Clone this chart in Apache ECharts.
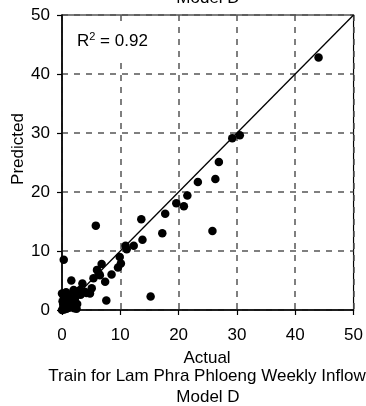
<!DOCTYPE html>
<html>
<head>
<meta charset="utf-8">
<script src="https://cdn.jsdelivr.net/npm/echarts@6/dist/echarts.min.js"></script>
<style>
  html, body { margin: 0; padding: 0; background: #fff; }
  #chart { width: 366px; height: 406px; }
</style>
</head>
<body>
<div id="chart"></div>
<script>
// Weekly inflow, Lam Phra Phloeng training set: actual vs predicted (Model D)
const actual = [
  44.0, 30.5, 29.2, 26.9, 26.3, 23.3, 21.5, 19.6, 20.9, 17.7,
  13.6, 25.8, 17.2, 13.8, 12.3, 10.9, 11.1, 9.9, 10.1, 9.6,
  8.5, 15.2, 5.8, 0.3, 6.8, 6.5, 5.4, 6.3, 7.4, 1.6,
  3.5, 3.9, 4.8, 5.1, 3.1, 2.0, 2.5, 2.2, 7.6, 1.1,
  0.0, 0.2, 0.5, 0.1, 0.3, 0.0, 0.8, 1.0, 1.3, 0.7,
  1.5, 1.8, 2.1, 2.3, 2.6, 2.8, 1.1, 0.4, 1.7, 2.5,
  0.6, 3.2, 4.2, 6.0, 0.9, 1.4, 0.2, 2.0, 1.2, 0.5
];
const predicted = [
  42.8, 29.6, 29.1, 25.1, 22.2, 21.7, 19.4, 18.1, 17.6, 16.3,
  15.4, 13.4, 13.0, 11.9, 10.9, 10.9, 10.3, 9.0, 7.9, 7.2,
  6.0, 2.3, 14.3, 8.5, 7.8, 5.9, 5.4, 6.2, 4.8, 5.0,
  4.5, 3.1, 2.8, 3.7, 3.4, 3.4, 2.8, 2.0, 1.6, 2.5,
  0.0, 0.4, 0.9, 1.5, 2.3, 2.8, 0.2, 1.2, 2.0, 3.0,
  0.5, 1.5, 0.3, 2.2, 1.0, 2.8, 2.6, 0.1, 0.9, 0.2,
  1.8, 2.6, 2.9, 6.8, 0.6, 1.0, 1.0, 0.8, 0.4, 1.3
];
// 1:1 reference line
const refLineX = [0, 50];
const refLineY = [0, 50];
const axisTicks = [0, 10, 20, 30, 40, 50];
const rSquared = '0.92';

const FONT = 'Liberation Sans, Arial, sans-serif';
const points = actual.map((a, i) => [a, predicted[i]]);
const refLine = refLineX.map((x, i) => [x, refLineY[i]]);

const axisCommon = {
  type: 'value',
  min: axisTicks[0],
  max: axisTicks[axisTicks.length - 1],
  interval: axisTicks[1] - axisTicks[0],
  axisLine: { show: true, onZero: false, lineStyle: { color: '#000', width: 1.5 } },
  axisTick: { show: true, length: 5, lineStyle: { color: '#000', width: 1.2 } },
  splitLine: { show: true, lineStyle: { color: '#555', width: 1.5, type: [6, 6] } },
  axisLabel: { color: '#000', fontSize: 17, fontFamily: FONT }
};

const chart = echarts.init(document.getElementById('chart'), null, { renderer: 'canvas' });
chart.setOption({
  animation: false,
  backgroundColor: '#fff',
  grid: {
    left: 62, right: 12, top: 15, bottom: 96,
    show: true, borderColor: '#000', borderWidth: 1.2, backgroundColor: 'transparent'
  },
  xAxis: Object.assign({}, axisCommon, {
    axisLabel: Object.assign({}, axisCommon.axisLabel, { margin: 17 })
  }),
  yAxis: Object.assign({}, axisCommon, {
    axisLabel: Object.assign({}, axisCommon.axisLabel, { margin: 12 })
  }),
  graphic: [
    { type: 'rect', z: 50, shape: { x: 66, y: 22, width: 94, height: 39 }, style: { fill: '#fff' } },
    { type: 'text', z: 51, x: 77, y: 41,
      style: {
        text: '{b|R}{s|2}{b| = ' + rSquared + '}',
        rich: {
          b: { fontSize: 17, fontFamily: FONT, fill: '#000' },
          s: { fontSize: 11, fontFamily: FONT, fill: '#000', padding: [0, 0, 9, 0] }
        },
        textAlign: 'left', textVerticalAlign: 'middle'
      } },
    { type: 'text', z: 51, x: 208, y: -2,
      style: { text: 'Model D', fill: '#000', font: '17px ' + FONT, textAlign: 'center', textVerticalAlign: 'middle' } },
    { type: 'text', z: 51, x: 207, y: 358,
      style: { text: 'Actual', fill: '#000', font: '17px ' + FONT, textAlign: 'center', textVerticalAlign: 'middle' } },
    { type: 'text', z: 51, x: 207, y: 376,
      style: { text: 'Train for Lam Phra Phloeng Weekly Inflow', fill: '#000', font: '17px ' + FONT, textAlign: 'center', textVerticalAlign: 'middle' } },
    { type: 'text', z: 51, x: 208, y: 397,
      style: { text: 'Model D', fill: '#000', font: '17px ' + FONT, textAlign: 'center', textVerticalAlign: 'middle' } },
    { type: 'text', z: 51, x: 18, y: 149, rotation: Math.PI / 2,
      style: { text: 'Predicted', fill: '#000', font: '17px ' + FONT, textAlign: 'center', textVerticalAlign: 'middle' } }
  ],
  series: [
    {
      type: 'line',
      data: refLine,
      showSymbol: false,
      silent: true,
      z: 2,
      lineStyle: { color: '#000', width: 1.3 }
    },
    {
      type: 'scatter',
      data: points,
      symbol: 'circle',
      symbolSize: 8.5,
      z: 3,
      itemStyle: { color: '#000', opacity: 1 }
    }
  ]
});
</script>
</body>
</html>
